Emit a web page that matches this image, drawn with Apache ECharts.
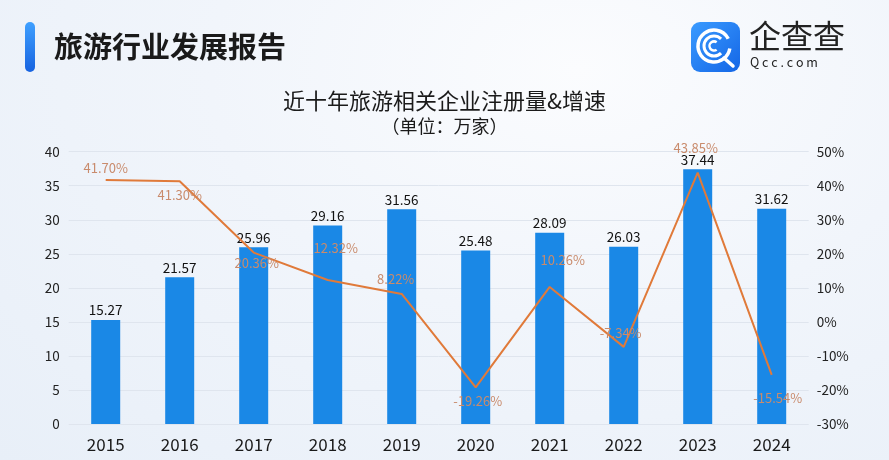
<!DOCTYPE html>
<html><head><meta charset="utf-8">
<script src="https://cdn.jsdelivr.net/npm/echarts@6/dist/echarts.min.js"></script>
<style>
html,body{margin:0;padding:0;}
body{width:889px;height:460px;overflow:hidden;background:radial-gradient(ellipse at 65% 15%, #fbfcfe 0%, #f1f5fb 45%, #e8eff8 100%);}
#c{width:889px;height:460px;}
</style></head>
<body><div id="c"></div>
<script>
const years = ['2015','2016','2017','2018','2019','2020','2021','2022','2023','2024'];
const registrations = [15.27, 21.57, 25.96, 29.16, 31.56, 25.48, 28.09, 26.03, 37.44, 31.62];
const growthRate = [41.70, 41.30, 20.36, 12.32, 8.22, -19.26, 10.26, -7.34, 43.85, -15.54];
const growthLabelPos = ['top','bottom','bottom','top','top','bottom','top','top','top','bottom'];
const growthLabelOffset = [[0,0],[0,2],[3,-2],[8,-20],[-6,-3],[2,2],[13,-15],[-3,-2],[-2,-13],[6,11]];

const FONT = '"Noto Sans CJK SC","Noto Sans",sans-serif';
const chart = echarts.init(document.getElementById('c'), null, {renderer:'canvas'});

const lineData = growthRate.map((v,i)=>({
  value: v,
  label: {position: growthLabelPos[i], offset: growthLabelOffset[i]}
}));

chart.setOption({
  backgroundColor: 'transparent',
  textStyle: {fontFamily: FONT},
  title: [
    {text: '近十年旅游相关企业注册量&增速', left: 'center', top: 85,
     textStyle: {fontSize: 22, fontWeight: 'normal', color: '#1a1a1a', fontFamily: FONT}},
    {text: '（单位：万家）', left: 'center', top: 112,
     textStyle: {fontSize: 18, fontWeight: 'normal', color: '#1a1a1a', fontFamily: FONT}}
  ],
  graphic: [
    {type:'rect', shape:{x:25, y:22, width:10, height:50, r:5},
     style:{fill: new echarts.graphic.LinearGradient(0,0,0,1,[{offset:0,color:'#3fa0ff'},{offset:1,color:'#1763e0'}])}},
    {type:'text', x:54, y:32, style:{text:'旅游行业发展报告', fontSize:29, fontWeight:'bold', fill:'#1a1a1a', fontFamily: FONT}},
    {type:'rect', shape:{x:691, y:22, width:49, height:50, r:9},
     style:{fill: new echarts.graphic.LinearGradient(0,0,1,1,[{offset:0,color:'#3a9bff'},{offset:1,color:'#1466e6'}])}},
    {type:'arc', shape:{cx:714, cy:46, r:16, startAngle:Math.PI*0.05, endAngle:Math.PI*1.85}, style:{stroke:'#fff', lineWidth:3.5, fill:null}},
    {type:'arc', shape:{cx:714, cy:46, r:10, startAngle:Math.PI*0.25, endAngle:Math.PI*1.75}, style:{stroke:'#fff', lineWidth:3, fill:null}},
    {type:'arc', shape:{cx:714, cy:46, r:4.5, startAngle:Math.PI*0.3, endAngle:Math.PI*1.7}, style:{stroke:'#fff', lineWidth:2.5, fill:null}},
    {type:'line', shape:{x1:724, y1:58, x2:733, y2:66}, style:{stroke:'#fff', lineWidth:3.5, lineCap:'round'}},
    {type:'text', x:749, y:20, style:{text:'企查查', fontSize:32, fontWeight:'normal', fill:'#222', fontFamily: FONT}},
    {type:'text', x:750, y:56, style:{text:'Q c c . c o m', fontSize:12.5, fill:'#222', fontFamily: FONT}}
  ],
  grid: {left: 68.7, right: 80.3, top: 151.7, bottom: 36},
  xAxis: {
    type: 'category', data: years,
    axisLine: {show: false}, axisTick: {show: false},
    axisLabel: {fontSize: 17, color: '#1a1a1a', margin: 12, fontFamily: FONT}
  },
  yAxis: [
    {type:'value', min:0, max:40, interval:5,
     axisLine:{show:false}, axisTick:{show:false},
     axisLabel:{fontSize:13.5, color:'#222', margin:9, fontFamily: FONT},
     splitLine:{lineStyle:{color:'#dfe5ee', width:1}}},
    {type:'value', min:-30, max:50, interval:10,
     axisLine:{show:false}, axisTick:{show:false},
     axisLabel:{fontSize:13.5, color:'#222', margin:8, formatter:'{value}%', fontFamily: FONT},
     splitLine:{show:false}}
  ],
  series: [
    {type:'bar', name:'注册量', data: registrations, barWidth: 29,
     itemStyle:{color:'#1a88e6'},
     label:{show:true, position:'top', distance:3, fontSize:13.5, color:'#111', fontFamily: FONT},
     z:2},
    {type:'line', name:'增速', yAxisIndex:1, data: lineData, symbol:'circle', symbolSize:1, showSymbol:true,
     itemStyle:{color:'rgba(224,122,58,0)'},
     lineStyle:{color:'#e07a3a', width:2},
     label:{show:true, fontSize:13, color:'#c98b6c', formatter: p => Number(p.value).toFixed(2)+'%', fontFamily: FONT},
     z:3}
  ]
});
</script>
</body></html>
